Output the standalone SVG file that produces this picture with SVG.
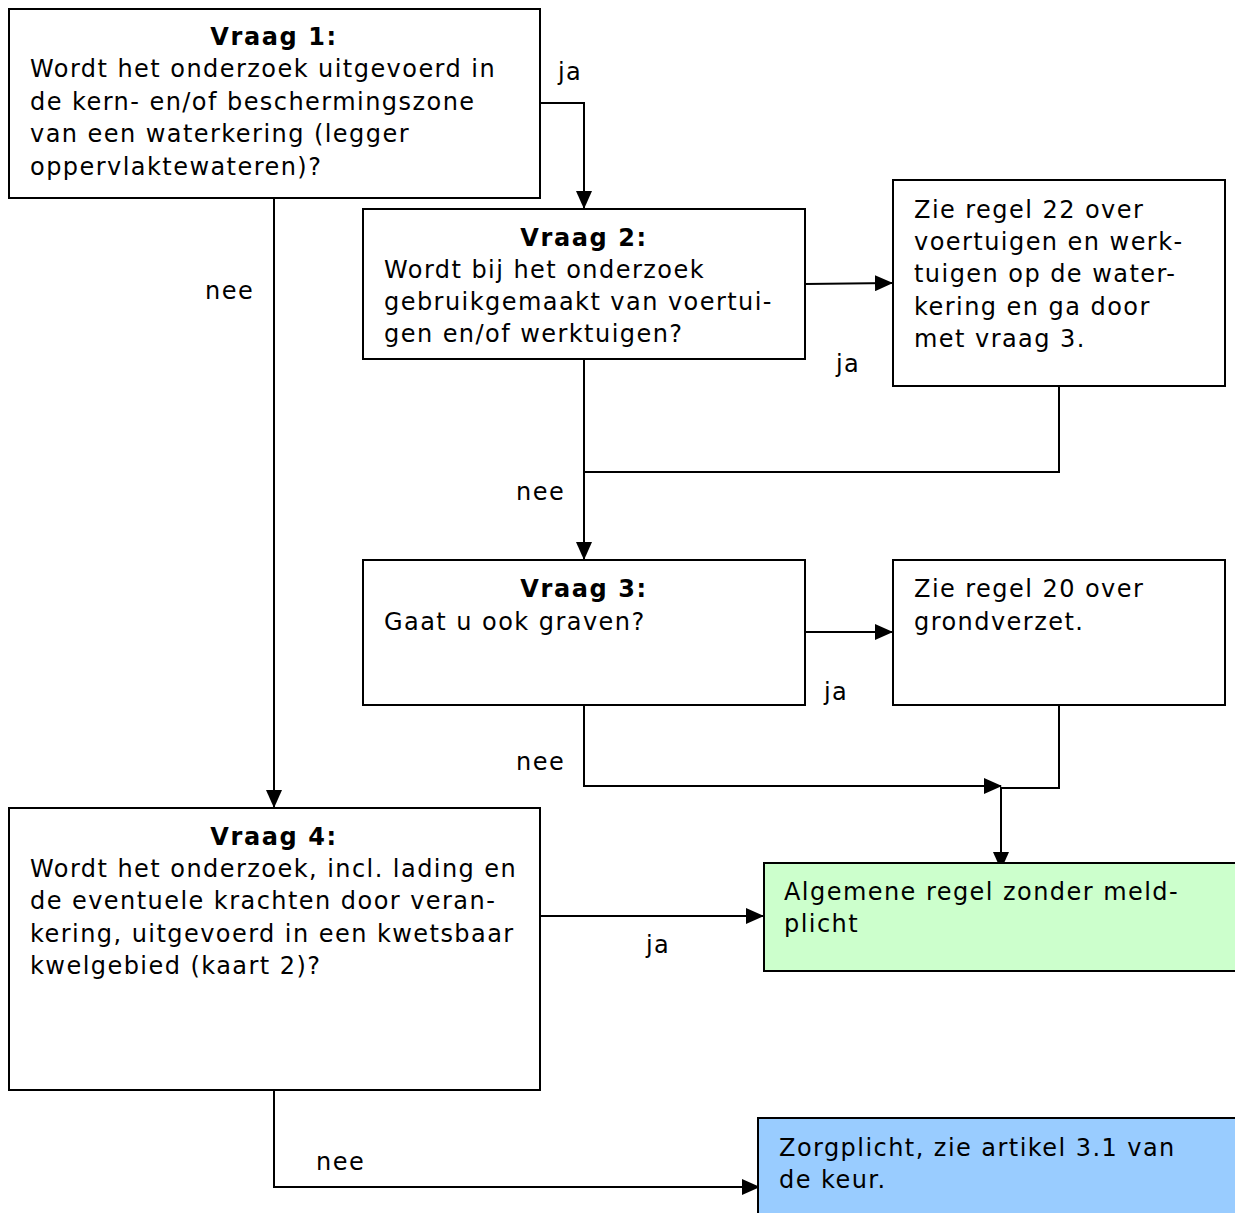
<svg xmlns="http://www.w3.org/2000/svg" width="1235" height="1213" viewBox="0 0 1235 1213">
<style>
text{font-family:"DejaVu Sans","Liberation Sans",sans-serif;font-size:24px;letter-spacing:1.45px;fill:#000}
.b{font-weight:bold;text-anchor:middle;letter-spacing:1.6px}
.box{fill:#fff;stroke:#000;stroke-width:2}
.line{fill:none;stroke:#000;stroke-width:2}
</style>
<defs>
<marker id="ahl" markerWidth="18" markerHeight="16" refX="17" refY="8" orient="auto" markerUnits="userSpaceOnUse" viewBox="0 0 18 16"><path d="M0,0 L18,8 L0,16 Z" fill="#000"/></marker>
</defs>
<g id="connectors">
<path class="line" d="M540,103 H584 V208" marker-end="url(#ahl)"/>
<path class="line" d="M274,198 V807" marker-end="url(#ahl)"/>
<path class="line" d="M805,284 L892,283" marker-end="url(#ahl)"/>
<path class="line" d="M584,359 V559" marker-end="url(#ahl)"/>
<path class="line" d="M1059,386 V472 H584"/>
<path class="line" d="M805,632 H892" marker-end="url(#ahl)"/>
<path class="line" d="M584,705 V786 H1001" marker-end="url(#ahl)"/>
<path class="line" d="M1059,705 V788 H1001 V869" marker-end="url(#ahl)"/>
<path class="line" d="M540,916 H763" marker-end="url(#ahl)"/>
<path class="line" d="M274,1090 V1187 H759" marker-end="url(#ahl)"/>
<text x="558" y="80">ja</text>
<text x="205" y="299">nee</text>
<text x="836" y="372">ja</text>
<text x="516" y="500">nee</text>
<text x="824" y="700">ja</text>
<text x="516" y="770">nee</text>
<text x="646" y="953">ja</text>
<text x="316" y="1170">nee</text>
</g>
<g id="vraag1">
<rect class="box" x="9" y="9" width="531" height="189"/>
<text class="b" x="274" y="45">Vraag 1:</text>
<text x="30" y="77">Wordt het onderzoek uitgevoerd in</text>
<text x="30" y="110">de kern- en/of beschermingszone</text>
<text x="30" y="142">van een waterkering (legger</text>
<text x="30" y="175">oppervlaktewateren)?</text>
</g>
<g id="vraag2">
<rect class="box" x="363" y="209" width="442" height="150"/>
<text class="b" x="584" y="246">Vraag 2:</text>
<text x="384" y="278">Wordt bij het onderzoek</text>
<text x="384" y="310">gebruikgemaakt van voertui-</text>
<text x="384" y="342">gen en/of werktuigen?</text>
</g>
<g id="regel22">
<rect class="box" x="893" y="180" width="332" height="206"/>
<text x="914" y="218">Zie regel 22 over</text>
<text x="914" y="250">voertuigen en werk-</text>
<text x="914" y="282">tuigen op de water-</text>
<text x="914" y="315">kering en ga door</text>
<text x="914" y="347">met vraag 3.</text>
</g>
<g id="vraag3">
<rect class="box" x="363" y="560" width="442" height="145"/>
<text class="b" x="584" y="597">Vraag 3:</text>
<text x="384" y="630">Gaat u ook graven?</text>
</g>
<g id="regel20">
<rect class="box" x="893" y="560" width="332" height="145"/>
<text x="914" y="597">Zie regel 20 over</text>
<text x="914" y="630">grondverzet.</text>
</g>
<g id="vraag4">
<rect class="box" x="9" y="808" width="531" height="282"/>
<text class="b" x="274" y="845">Vraag 4:</text>
<text x="30" y="877">Wordt het onderzoek, incl. lading en</text>
<text x="30" y="909">de eventuele krachten door veran-</text>
<text x="30" y="942">kering, uitgevoerd in een kwetsbaar</text>
<text x="30" y="974">kwelgebied (kaart 2)?</text>
</g>
<g id="algemeen">
<rect x="764" y="863" width="480" height="108" fill="#ccffcc" stroke="#000" stroke-width="2"/>
<text x="784" y="900">Algemene regel zonder meld-</text>
<text x="784" y="932">plicht</text>
</g>
<g id="zorgplicht">
<rect x="758" y="1118" width="486" height="110" fill="#99ccff" stroke="#000" stroke-width="2"/>
<text x="779" y="1156">Zorgplicht, zie artikel 3.1 van</text>
<text x="779" y="1188">de keur.</text>
</g>
</svg>
